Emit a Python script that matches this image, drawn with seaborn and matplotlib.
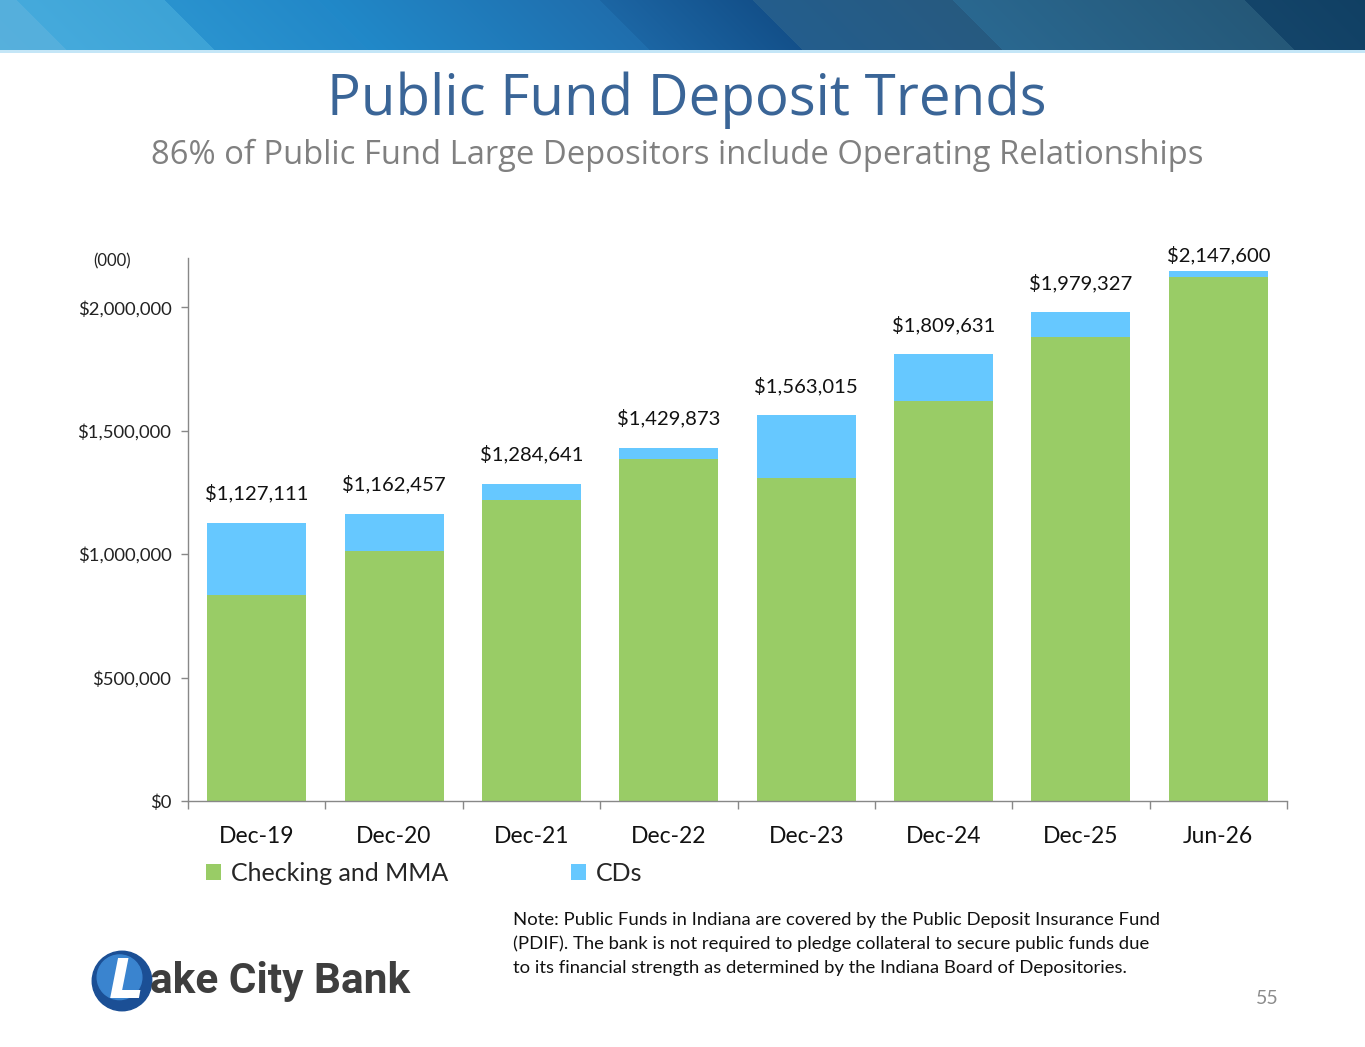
import numpy as np
import pandas as pd
import matplotlib
matplotlib.use("Agg")
import matplotlib.pyplot as plt
import matplotlib.ticker as mticker
from matplotlib.colors import to_rgb
from matplotlib.patches import Circle
import seaborn as sns

# ---------------- data ----------------
periods = ["Dec-19", "Dec-20", "Dec-21", "Dec-22", "Dec-23", "Dec-24", "Dec-25", "Jun-26"]
totals = [1127111, 1162457, 1284641, 1429873, 1563015, 1809631, 1979327, 2147600]
checking_mma = [833000, 1012000, 1218000, 1385000, 1310000, 1619000, 1879000, 2125000]
cds = [t - c for t, c in zip(totals, checking_mma)]
y_ticks = [0, 500000, 1000000, 1500000, 2000000]

title = "Public Fund Deposit Trends"
subtitle = "86% of Public Fund Large Depositors include Operating Relationships"
note_lines = [
    "Note: Public Funds in Indiana are covered by the Public Deposit Insurance Fund",
    "(PDIF). The bank is not required to pledge collateral to secure public funds due",
    "to its financial strength as determined by the Indiana Board of Depositories.",
]

GREEN = "#99CC66"
BLUE = "#66C8FF"
FONT = "Lato"

sns.set_theme(style="white")
plt.rcParams["font.family"] = [FONT, "DejaVu Sans"]

W, H = 1365, 1047
fig = plt.figure(figsize=(W / 100, H / 100), dpi=100)


def fx(x):
    return x / W


def fy(y):
    return 1 - y / H


# ---------------- banner ----------------
bh = 50
xs = np.arange(W)[None, :]
ys = np.arange(bh)[:, None]
u = xs - ys * 1.0
bounds = [-200, 17, 165, 318, 600, 753, 953, 1245, 1500]
cols = [("#5BB3DE", "#55AFDC"), ("#45AADC", "#3DA3D6"), ("#2A93CF", "#2288C8"),
        ("#2189C9", "#1F6EAD"), ("#1C66A4", "#13508A"), ("#245E8D", "#275A80"),
        ("#2A6890", "#255878"), ("#14456A", "#0D3A5C")]
img = np.zeros((bh, W, 3))
for i in range(len(cols)):
    lo, hi = bounds[i], bounds[i + 1]
    m = (u >= lo) & (u < hi)
    t = np.clip((u - lo) / (hi - lo), 0, 1)
    c0 = np.array(to_rgb(cols[i][0]))
    c1 = np.array(to_rgb(cols[i][1]))
    for k in range(3):
        img[..., k] = np.where(m, c0[k] + (c1[k] - c0[k]) * t, img[..., k])
bax = fig.add_axes([0, fy(bh), 1, bh / H])
bax.imshow(img, aspect="auto", interpolation="bilinear")
bax.axis("off")
lax = fig.add_axes([0, fy(53), 1, 3 / H])
lax.set_facecolor("#C4E6F7")
lax.set_xticks([]); lax.set_yticks([])
for s in lax.spines.values():
    s.set_visible(False)

# ---------------- titles ----------------
fig.text(fx(687), fy(100), title, ha="center", va="center", fontsize=40.6,
         color="#3A6597", family=["Open Sans", "DejaVu Sans"])
fig.text(fx(677), fy(155), subtitle, ha="center", va="center", fontsize=23.6,
         color="#808080", family=["Open Sans", "DejaVu Sans"])

# ---------------- chart ----------------
ax = fig.add_axes([fx(188), fy(801), fx(1287) - fx(188), (801 - 258) / H])
df = pd.DataFrame({"period": periods, "total": totals, "checking": checking_mma, "cds": cds})
sns.barplot(data=df, x="period", y="total", color=BLUE, width=0.72, ax=ax,
            saturation=1, label="CDs")
sns.barplot(data=df, x="period", y="checking", color=GREEN, width=0.72, ax=ax,
            saturation=1, label="Checking and MMA")
for p in ax.patches:
    p.set_edgecolor("none")

ax.set_ylim(0, 2200000)
ax.set_xlim(-0.5, len(periods) - 0.5)
ax.set_yticks(y_ticks)
ax.yaxis.set_major_formatter(mticker.FuncFormatter(lambda v, _: f"${v:,.0f}"))
ax.set_xlabel("")
ax.set_ylabel("")
ax.tick_params(axis="y", labelsize=13.3, length=5, width=1, color="#888888",
               direction="out", left=True, pad=7, labelcolor="#222222")
ax.tick_params(axis="x", which="major", labelsize=16.5, length=0, pad=18, labelcolor="#111111")
ax.set_xticks(np.arange(-0.5, len(periods) + 0.5, 1), minor=True)
ax.tick_params(axis="x", which="minor", length=6, width=1, color="#888888", direction="out", bottom=True)
for side in ["top", "right"]:
    ax.spines[side].set_visible(False)
for side in ["left", "bottom"]:
    ax.spines[side].set_color("#888888")
    ax.spines[side].set_linewidth(1)

label_gap = 120000
label_cap = 2210000
for i, t in enumerate(totals):
    ax.text(i, min(t + label_gap, label_cap), f"${t:,.0f}", ha="center", va="center",
            fontsize=14.6, color="#111111")

handles, labels = ax.get_legend_handles_labels()
order = [labels.index("Checking and MMA"), labels.index("CDs")]
leg = ax.legend([handles[k] for k in order], [labels[k] for k in order],
                loc="upper left", bbox_to_anchor=(0.0164, -0.112), ncol=2, frameon=False,
                fontsize=18, handlelength=0.6, handleheight=0.6, handletextpad=0.4,
                columnspacing=4.9, borderaxespad=0, borderpad=0)

fig.text(fx(112), fy(261), "(000)", ha="center", va="center", fontsize=12, color="#222222")

# ---------------- note ----------------
for k, line in enumerate(note_lines):
    fig.text(fx(513), fy(920 + 24 * k), line, ha="left", va="center", fontsize=13.3, color="#111111")

fig.text(fx(1267), fy(998), "55", ha="center", va="center", fontsize=14, color="#8C8C8C")

# ---------------- logo ----------------
lg = fig.add_axes([fx(91), fy(1012), fx(62), 62 / H])
lg.set_xlim(0, 1); lg.set_ylim(0, 1); lg.axis("off")
lg.add_patch(Circle((0.5, 0.5), 0.48, color="#1B4F95", transform=lg.transAxes))
lg.add_patch(Circle((0.46, 0.56), 0.36, color="#3A84CF", transform=lg.transAxes))
lg.text(0.58, 0.46, "L", ha="center", va="center", fontsize=40, color="white",
        fontweight="bold", style="italic", family=["DejaVu Sans"])
fig.text(fx(150), fy(982), "ake City Bank", ha="left", va="center", fontsize=30.5,
         color="#3E3E3E", fontweight="bold", family=["Roboto", "DejaVu Sans"])

fig.savefig("out.png", dpi=100)
